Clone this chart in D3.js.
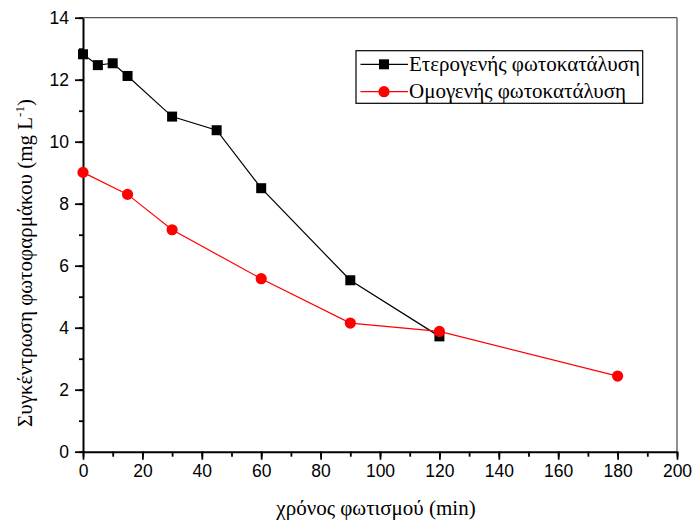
<!DOCTYPE html>
<html>
<head>
<meta charset="utf-8">
<script src="https://cdn.jsdelivr.net/npm/d3@7"></script>
<style>
  html, body { margin: 0; padding: 0; background: #fff; }
  svg { display: block; }
</style>
</head>
<body>
<svg id="chart" width="693" height="521"></svg>
<script>
// Irradiation time (min) and drug concentration (mg/L) for both processes
const heteroTime = [0, 5, 10, 15, 30, 45, 60, 90, 120];
const heteroConc = [12.82, 12.47, 12.53, 12.12, 10.81, 10.37, 8.5, 5.53, 3.72];
const homoTime = [0, 15, 30, 60, 90, 120, 180];
const homoConc = [9.01, 8.3, 7.16, 5.58, 4.15, 3.88, 2.44];

const seriesNames = ["Ετερογενής φωτοκατάλυση", "Ομογενής φωτοκατάλυση"];
const xTicks = [0, 20, 40, 60, 80, 100, 120, 140, 160, 180, 200];
const yTicks = [0, 2, 4, 6, 8, 10, 12, 14];
const xTitle = "χρόνος φωτισμού (min)";
const yTitle = "Συγκέντρωση φωτοφαρμάκου (mg L";

const svg = d3.select("#chart");
const plotL = 83, plotR = 677, plotT = 17.7, plotB = 451.7;

const x = d3.scaleLinear().domain([0, 200]).range([plotL, plotR]);
const y = d3.scaleLinear().domain([0, 14]).range([plotB, plotT]);

const tickFont = "'Liberation Sans', Arial, sans-serif";
const serif = "'Liberation Serif', 'Times New Roman', serif";
const titleSize = "21px";

// Frame: thin grey top and right edges
svg.append("line").attr("x1", plotL).attr("x2", plotR).attr("y1", plotT).attr("y2", plotT)
  .attr("stroke", "#555").attr("stroke-width", 1.3);
svg.append("line").attr("x1", plotR).attr("x2", plotR).attr("y1", plotT).attr("y2", plotB)
  .attr("stroke", "#555").attr("stroke-width", 1.3);

// Bottom axis with minor ticks
const xMinor = svg.append("g").attr("transform", `translate(0,${plotB})`)
  .call(d3.axisBottom(x).ticks(20).tickSize(5).tickFormat(""));
xMinor.select(".domain").remove();
const xAxis = svg.append("g").attr("transform", `translate(0,${plotB})`)
  .call(d3.axisBottom(x).tickValues(xTicks).tickSize(8).tickPadding(5).tickSizeOuter(0));

// Left axis with minor ticks
const yMinor = svg.append("g").attr("transform", `translate(${plotL},0)`)
  .call(d3.axisLeft(y).ticks(14).tickSize(4).tickFormat(""));
yMinor.select(".domain").remove();
const yAxis = svg.append("g").attr("transform", `translate(${plotL},0)`)
  .call(d3.axisLeft(y).tickValues(yTicks).tickSize(8).tickPadding(6).tickSizeOuter(0));

[xAxis, yAxis, xMinor, yMinor].forEach(g => {
  g.selectAll("line").attr("stroke", "#000").attr("stroke-width", 1.8);
  g.selectAll(".domain").attr("stroke", "#000").attr("stroke-width", 2);
  g.selectAll("text").attr("fill", "#000").style("font-family", tickFont).style("font-size", "17.5px");
});

// Axis titles
svg.append("text").attr("x", 376).attr("y", 515).attr("text-anchor", "middle")
  .style("font-family", serif).style("font-size", titleSize).attr("fill", "#000")
  .text(xTitle);

const yt = svg.append("text")
  .attr("transform", "translate(32,263) rotate(-90)")
  .attr("text-anchor", "middle")
  .style("font-family", serif).style("font-size", titleSize).attr("fill", "#000");
yt.append("tspan").text(yTitle);
yt.append("tspan").attr("dy", -8).style("font-size", "13px").text("-1");
yt.append("tspan").attr("dy", 8).text(")");

// Series lines
const line = d3.line().x(d => x(d[0])).y(d => y(d[1]));
const hetero = heteroTime.map((t, i) => [t, heteroConc[i]]);
const homo = homoTime.map((t, i) => [t, homoConc[i]]);

svg.append("path").datum(hetero).attr("d", line)
  .attr("fill", "none").attr("stroke", "#000").attr("stroke-width", 1.2);
svg.append("path").datum(homo).attr("d", line)
  .attr("fill", "none").attr("stroke", "#ff0000").attr("stroke-width", 1.2);

// Markers
const sq = 10;
svg.append("g").selectAll("rect").data(hetero).join("rect")
  .attr("x", d => x(d[0]) - sq / 2).attr("y", d => y(d[1]) - sq / 2)
  .attr("width", sq).attr("height", sq).attr("fill", "#000");
svg.append("g").selectAll("circle").data(homo).join("circle")
  .attr("cx", d => x(d[0])).attr("cy", d => y(d[1])).attr("r", 5.6)
  .attr("fill", "#ff0000");

// Legend
const lg = svg.append("g");
lg.append("rect").attr("x", 356).attr("y", 50.7).attr("width", 286.7).attr("height", 52.6)
  .attr("fill", "#fff").attr("stroke", "#000").attr("stroke-width", 1.2);
const legendRows = [
  { name: seriesNames[0], color: "#000", shape: "square", yy: 64.3 },
  { name: seriesNames[1], color: "#ff0000", shape: "circle", yy: 91.7 }
];
legendRows.forEach(r => {
  lg.append("line").attr("x1", 360.5).attr("x2", 408).attr("y1", r.yy).attr("y2", r.yy)
    .attr("stroke", r.color).attr("stroke-width", 1.2);
  if (r.shape === "square") {
    lg.append("rect").attr("x", 384 - 5).attr("y", r.yy - 5).attr("width", 10).attr("height", 10)
      .attr("fill", r.color);
  } else {
    lg.append("circle").attr("cx", 384).attr("cy", r.yy).attr("r", 5.6).attr("fill", r.color);
  }
  lg.append("text").attr("x", 409).attr("y", r.yy + 6.5)
    .style("font-family", serif).style("font-size", titleSize).attr("fill", "#000")
    .text(r.name);
});
</script>
</body>
</html>
